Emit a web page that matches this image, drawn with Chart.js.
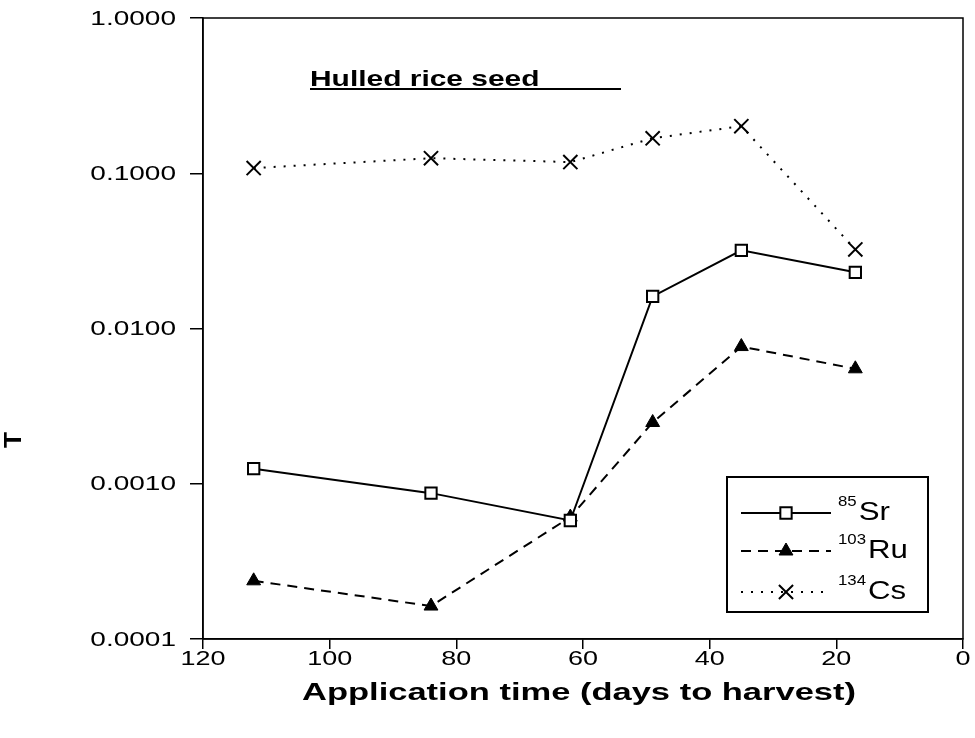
<!DOCTYPE html>
<html>
<head>
<meta charset="utf-8">
<script src="https://cdn.jsdelivr.net/npm/chart.js@4.4.1/dist/chart.umd.min.js"></script>
<style>
  html, body { margin: 0; padding: 0; background: #fff; }
  canvas { display: block; }
</style>
</head>
<body>
<canvas id="transferChart" width="975" height="738"></canvas>
<script>
  // days before harvest when the nuclide was applied
  const days = [112, 84, 62, 49, 35, 17];
  const sr85 = [0.00125, 0.00087, 0.00058, 0.0161, 0.0319, 0.023];
  const ru103 = [0.000237, 0.000163, 0.00061, 0.00248, 0.00765, 0.0055];
  const cs134 = [0.108, 0.125, 0.118, 0.168, 0.201, 0.0323];
  const yTicks = [0.0001, 0.001, 0.01, 0.1, 1];
  const yTickLabels = ["0.0001", "0.0010", "0.0100", "0.1000", "1.0000"];
  const xTicks = [120, 100, 80, 60, 40, 20, 0];
  const legendMass = ["85", "103", "134"];
  const legendNames = ["Sr", "Ru", "Cs"];

  const FAMILY = '"Liberation Sans", Arial, sans-serif';

  function toPoints(vals) {
    return days.map((d, i) => ({ x: d, y: vals[i] }));
  }

  // draw text stretched sideways like the original figure
  function wideText(ctx, txt, x, y, font, sx, align, baseline) {
    ctx.save();
    ctx.font = font;
    ctx.textBaseline = baseline || "middle";
    ctx.textAlign = "left";
    const w = ctx.measureText(txt).width * sx;
    let left = x;
    if (align === "right") left = x - w;
    if (align === "center") left = x - w / 2;
    ctx.translate(left, y);
    ctx.scale(sx, 1);
    ctx.fillStyle = "#000";
    ctx.fillText(txt, 0, 0);
    ctx.restore();
    return w;
  }

  const decorPlugin = {
    id: "decor",
    afterDraw(chart) {
      const ctx = chart.ctx;
      const area = chart.chartArea;
      const xs = chart.scales.x;
      const ys = chart.scales.y;

      // frame
      ctx.save();
      ctx.strokeStyle = "#000";
      ctx.lineWidth = 1.5;
      ctx.strokeRect(area.left, area.top, area.right - area.left, area.bottom - area.top);
      ctx.restore();

      // tick labels
      yTicks.forEach((v, i) => {
        wideText(ctx, yTickLabels[i], 176, ys.getPixelForValue(v) + 1, "20px " + FAMILY, 1.4, "right");
      });
      xTicks.forEach((v) => {
        wideText(ctx, String(v), xs.getPixelForValue(v), 659, "20px " + FAMILY, 1.35, "center");
      });

      // axis titles
      wideText(ctx, "Application time (days to harvest)", 579, 694, "bold 23px " + FAMILY, 1.5, "center");
      ctx.save();
      ctx.translate(15, 440);
      ctx.rotate(-Math.PI / 2);
      wideText(ctx, "T", 0, 0, "bold 23px " + FAMILY, 1.15, "center");
      ctx.restore();

      // panel label
      wideText(ctx, "Hulled rice seed", 310, 86, "bold 22px " + FAMILY, 1.36, "left", "alphabetic");
      ctx.save();
      ctx.strokeStyle = "#000";
      ctx.lineWidth = 2;
      ctx.beginPath();
      ctx.moveTo(310, 89);
      ctx.lineTo(621, 89);
      ctx.stroke();
      ctx.restore();

      // legend
      ctx.save();
      ctx.fillStyle = "#fff";
      ctx.fillRect(727, 477, 201, 135);
      ctx.strokeStyle = "#000";
      ctx.lineWidth = 2;
      ctx.strokeRect(727, 477, 201, 135);
      ctx.restore();

      const rowY = [513, 551, 592];
      chart.data.datasets.forEach((ds, i) => {
        const y = rowY[i];
        ctx.save();
        ctx.strokeStyle = "#000";
        ctx.lineWidth = ds.borderWidth;
        ctx.setLineDash(ds.borderDash || []);
        ctx.beginPath();
        ctx.moveTo(741, y);
        ctx.lineTo(831, y);
        ctx.stroke();
        ctx.setLineDash([]);
        ctx.fillStyle = ds.pointBackgroundColor;
        ctx.strokeStyle = ds.pointBorderColor;
        ctx.lineWidth = ds.pointBorderWidth;
        Chart.helpers.drawPoint(ctx, {
          pointStyle: ds.pointStyle,
          radius: ds.pointRadius,
          rotation: 0,
          borderWidth: ds.pointBorderWidth
        }, 786, y);
        ctx.restore();
        const w = wideText(ctx, legendMass[i], 838, y - 7, "14px " + FAMILY, 1.2, "left", "alphabetic");
        wideText(ctx, legendNames[i], 838 + w + 2, y + 7, "26px " + FAMILY, 1.2, "left", "alphabetic");
      });
    }
  };

  const ctx = document.getElementById("transferChart").getContext("2d");

  new Chart(ctx, {
    type: "line",
    data: {
      datasets: [
        {
          label: "85Sr",
          data: toPoints(sr85),
          borderColor: "#000",
          borderWidth: 2,
          pointStyle: "rect",
          pointRadius: 8,
          pointBackgroundColor: "#fff",
          pointBorderColor: "#000",
          pointBorderWidth: 2
        },
        {
          label: "103Ru",
          data: toPoints(ru103),
          borderColor: "#000",
          borderWidth: 2,
          borderDash: [10, 7],
          pointStyle: "triangle",
          pointRadius: 8,
          pointBackgroundColor: "#000",
          pointBorderColor: "#000",
          pointBorderWidth: 1
        },
        {
          label: "134Cs",
          data: toPoints(cs134),
          borderColor: "#000",
          borderWidth: 2,
          borderDash: [2, 8],
          pointStyle: "crossRot",
          pointRadius: 10,
          pointBackgroundColor: "#000",
          pointBorderColor: "#000",
          pointBorderWidth: 2
        }
      ]
    },
    options: {
      responsive: false,
      animation: false,
      layout: { padding: { top: 18, right: 10, left: 0, bottom: 0 } },
      plugins: {
        legend: { display: false },
        tooltip: { enabled: false }
      },
      scales: {
        x: {
          type: "linear",
          reverse: true,
          min: 0,
          max: 120,
          ticks: { display: false, stepSize: 20 },
          grid: {
            drawOnChartArea: false,
            drawTicks: true,
            tickLength: 10,
            color: "#000",
            lineWidth: 1.5
          },
          border: { color: "#000", width: 1.5 },
          afterFit: (s) => { s.height = 99; }
        },
        y: {
          type: "logarithmic",
          min: 0.0001,
          max: 1,
          ticks: { display: false },
          afterBuildTicks: (s) => { s.ticks = yTicks.map((v) => ({ value: v })); },
          grid: {
            drawOnChartArea: false,
            drawTicks: true,
            tickLength: 13,
            color: "#000",
            lineWidth: 1.5
          },
          border: { color: "#000", width: 1.5 },
          afterFit: (s) => { s.width = 203; }
        }
      }
    },
    plugins: [decorPlugin]
  });
</script>
</body>
</html>
